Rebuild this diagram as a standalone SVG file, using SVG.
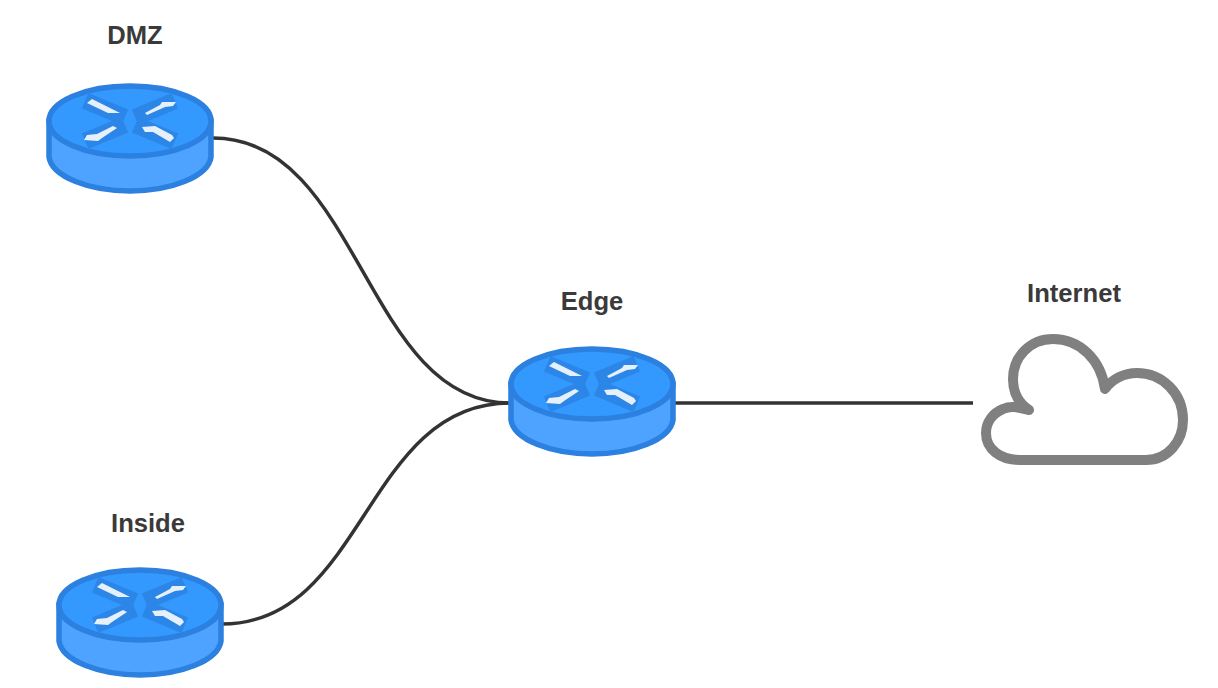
<svg xmlns="http://www.w3.org/2000/svg" width="1218" height="688" viewBox="0 0 1218 688">
<style>
.lbl{font-family:"Liberation Sans",Arial,sans-serif;font-weight:700;font-size:25.6px;fill:#3a3a3a;text-anchor:middle}
.link{fill:none;stroke:#333;stroke-width:3.5}
.body{fill:#4da3ff;stroke:#2b80e0;stroke-width:5.5}
.top{fill:#3399ff;stroke:#2b80e0;stroke-width:5.5}
.halo{fill:none;stroke:#2c86e8;stroke-width:17;stroke-linecap:square}
.arr{fill:#e6f0fa}
</style>
<defs>
<g id="router">
<path class="body" d="M-81 0V36C-78 56-40 70 0 70S78 56 81 36V0Z"/>
<ellipse class="top" cx="0" cy="0" rx="81" ry="35"/>
<path class="halo" d="M-37-17L-13-7M37-17L13-7M-37 17L-13 7M37 17L13 7"/>
<path class="arr" d="M-43-18L-38-22L-20-13L-10-8L-22-8Z"/>
<path class="arr" d="M15-8L30-16L32-19L46-19L43-15L35-14L17-6Z"/>
<path class="arr" d="M-17 5L-33 13L-43 14L-46 19L-32 20L-28 17L-13 7Z"/>
<path class="arr" d="M12 6L25 5L42 14L44 17L40 21L23 11L15 11Z"/>
</g>
</defs>
<g id="connectors">
<path class="link" d="M213 138C360 138 365 403 510 403"/>
<path class="link" d="M222 624C365 624 365 403 510 403"/>
<path class="link" d="M675 403H973"/>
</g>
<g id="dmz"><use href="#router" x="130" y="121"/><text class="lbl" x="135" y="44">DMZ</text></g>
<g id="inside"><use href="#router" x="140" y="605"/><text class="lbl" x="148" y="532">Inside</text></g>
<g id="edge"><use href="#router" x="592" y="384"/><text class="lbl" x="592" y="310">Edge</text></g>
<g id="internet">
<path fill="#fff" stroke="#808080" stroke-width="10" stroke-linejoin="round" d="M1020 460H1146C1168 460 1183 441 1183 420C1183 393 1162 373 1137 373C1124 373 1112 379 1105 389C1101 360 1080 339 1053 339C1030 339 1013 357 1013 379C1013 391 1017 402 1029 410C1020 408 1012 405 1003 409C993 413 986 422 986 433C986 449 1000 460 1020 460Z"/>
<text class="lbl" x="1074" y="302">Internet</text>
</g>
</svg>
